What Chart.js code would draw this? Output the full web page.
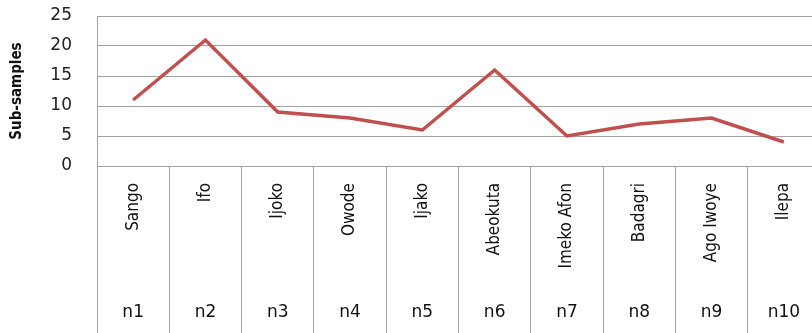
<!DOCTYPE html>
<html>
<head>
<meta charset="utf-8">
<script src="https://cdn.jsdelivr.net/npm/chart.js@4"></script>
<style>
  body { margin: 0; overflow: hidden; background: #fff; }
</style>
</head>
<body>
<canvas id="subChart" width="820" height="333"></canvas>
<script>
const sites = ['Sango', 'Ifo', 'Ijoko', 'Owode', 'Ijako', 'Abeokuta', 'Imeko Afon', 'Badagri', 'Ago Iwoye', 'Ilepa'];
const codes = ['n1', 'n2', 'n3', 'n4', 'n5', 'n6', 'n7', 'n8', 'n9', 'n10'];
const subSamples = [11, 21, 9, 8, 6, 16, 5, 7, 8, 4];

const gridGrey = '#a3a3a3';

// draws the two rows of category text under the plot (site name rotated, code below)
const catLabels = {
  id: 'catLabels',
  afterDraw(chart) {
    const ctx = chart.ctx;
    const xs = chart.scales.x;
    const top = chart.chartArea.bottom;
    ctx.save();
    ctx.fillStyle = '#111';
    sites.forEach((name, i) => {
      const x = xs.getPixelForValue(i);
      ctx.save();
      ctx.translate(x, top + 17);
      ctx.rotate(-Math.PI / 2);
      ctx.font = '17px "Liberation Sans Narrow", "DejaVu Sans Condensed", sans-serif';
      ctx.textAlign = 'right';
      ctx.textBaseline = 'middle';
      ctx.fillText(name, 0, 0);
      ctx.restore();

      ctx.font = '17px "DejaVu Sans", sans-serif';
      ctx.textAlign = 'center';
      ctx.textBaseline = 'middle';
      ctx.fillText(codes[i], x, top + 147);
    });
    ctx.restore();
  }
};

const ctx = document.getElementById('subChart').getContext('2d');
const myChart = new Chart(ctx, {
  type: 'line',
  data: {
    labels: sites,
    datasets: [{
      label: 'Sub-samples',
      data: subSamples,
      borderColor: '#C0504D',
      borderWidth: 3.5,
      pointRadius: 0,
      tension: 0,
      fill: false
    }]
  },
  options: {
    responsive: false,
    animation: false,
    layout: { padding: { top: 16, right: 0, left: 0, bottom: 0 } },
    plugins: {
      legend: { display: false },
      tooltip: { enabled: false }
    },
    scales: {
      x: {
        offset: true,
        grid: {
          offset: true,
          drawOnChartArea: false,
          drawTicks: true,
          tickLength: 167,
          color: gridGrey,
          lineWidth: 1
        },
        border: { display: false },
        ticks: { display: false },
        afterFit(scale) { scale.height = 167; }
      },
      y: {
        min: 0,
        max: 25,
        ticks: {
          stepSize: 5,
          padding: 25,
          color: '#222',
          font: { family: '"DejaVu Sans", sans-serif', size: 17 }
        },
        grid: { color: gridGrey, drawTicks: false, lineWidth: 1 },
        border: { color: gridGrey },
        title: {
          display: true,
          text: 'Sub-samples',
          color: '#111',
          padding: { top: 8, bottom: 0 },
          font: { family: '"Liberation Sans Narrow", "DejaVu Sans Condensed", sans-serif', size: 15, weight: 'bold' }
        },
        afterFit(scale) {
          scale.width = 97;
          scale.paddingTop = 0;
          scale.paddingBottom = 0;
        }
      }
    }
  },
  plugins: [catLabels]
});
</script>
</body>
</html>
